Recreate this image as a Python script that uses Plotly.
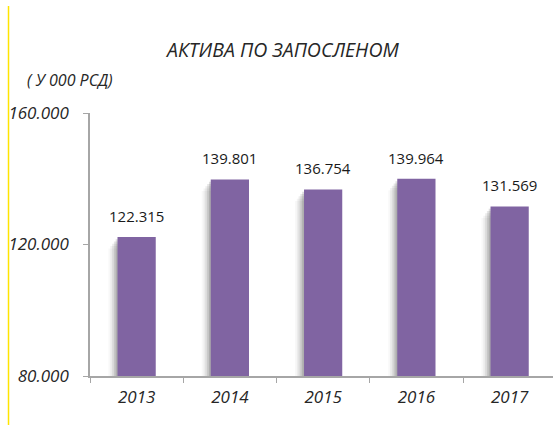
import plotly.graph_objects as go

years = ["2013", "2014", "2015", "2016", "2017"]
assets_per_employee = [122315, 139801, 136754, 139964, 131569]
y_ticks = [80000, 120000, 160000]
y_tick_labels = ["80.000", "120.000", "160.000"]
value_labels = ["122.315", "139.801", "136.754", "139.964", "131.569"]

BAR_COLOR = "#8064A2"
AXIS_COLOR = "#A6A6A6"
TEXT_COLOR = "#262626"
FONT = "Open Sans"
bar_w = 0.41
px_unit = 1 / 93.25  # one pixel in category units

fig = go.Figure()

# soft drop shadow on the left side of each bar
for k, op in enumerate([0.16, 0.12, 0.09, 0.06, 0.035]):
    shift = (k + 1) * 1.8 * px_unit
    fig.add_trace(go.Bar(
        x=years, y=[v - 700 * (k + 1) for v in assets_per_employee],
        width=bar_w, offset=-bar_w / 2 - shift,
        marker=dict(color=f"rgba(50,50,50,{op})", line=dict(width=0)),
        hoverinfo="skip", showlegend=False,
    ))

fig.add_trace(go.Bar(
    x=years, y=assets_per_employee, width=bar_w, offset=-bar_w / 2,
    marker=dict(color=BAR_COLOR, line=dict(width=0)),
    showlegend=False,
))

# value labels above the bars
for i, (v, lab) in enumerate(zip(assets_per_employee, value_labels)):
    fig.add_annotation(x=i, y=v, text=lab, showarrow=False, yshift=21,
                       yanchor="middle", xanchor="center",
                       font=dict(family=FONT, size=15, color="#1a1a1a"))

fig.add_annotation(xref="paper", yref="paper", x=(281.5 - 90) / 463, y=1,
                   yshift=64, yanchor="middle", xanchor="center",
                   text="<i>АКТИВА ПО ЗАПОСЛЕНОМ</i>", showarrow=False,
                   font=dict(family=FONT, size=19.5, color=TEXT_COLOR))
fig.add_annotation(xref="paper", yref="paper", x=(25 - 90) / 463, y=1,
                   yshift=33, yanchor="middle", xanchor="left",
                   text="<i>( У 000 РСД)</i>", showarrow=False,
                   font=dict(family=FONT, size=16, color=TEXT_COLOR))

# yellow border line on the left
fig.add_shape(type="line", xref="paper", yref="paper",
              x0=-0.176, x1=-0.176, y0=-0.186, y1=1.407,
              line=dict(color="#FFE500", width=1.5))

fig.update_layout(
    width=553, height=435,
    margin=dict(l=90, r=0, t=113, b=59),
    paper_bgcolor="white", plot_bgcolor="white",
    barmode="overlay",
    xaxis=dict(
        type="category", range=[-0.5, 4.465],
        tickvals=years, ticktext=[f"<i>{y}</i>" for y in years],
        showline=True, linecolor=AXIS_COLOR, linewidth=1.5,
        ticks="outside", tickson="boundaries", ticklen=5, tickcolor=AXIS_COLOR,
        tickfont=dict(family=FONT, size=17, color=TEXT_COLOR),
        ticklabelstandoff=5,
        showgrid=False, fixedrange=True,
    ),
    yaxis=dict(
        range=[80000, 160000], tickvals=y_ticks,
        ticktext=[f"<i>{t}</i>" for t in y_tick_labels],
        showline=True, linecolor=AXIS_COLOR, linewidth=1.5,
        ticks="outside", ticklen=5, tickcolor=AXIS_COLOR,
        tickfont=dict(family=FONT, size=17, color=TEXT_COLOR),
        ticklabelstandoff=11,
        showgrid=False, zeroline=False,
    ),
    font=dict(family=FONT),
)

fig.write_html("out.html")
